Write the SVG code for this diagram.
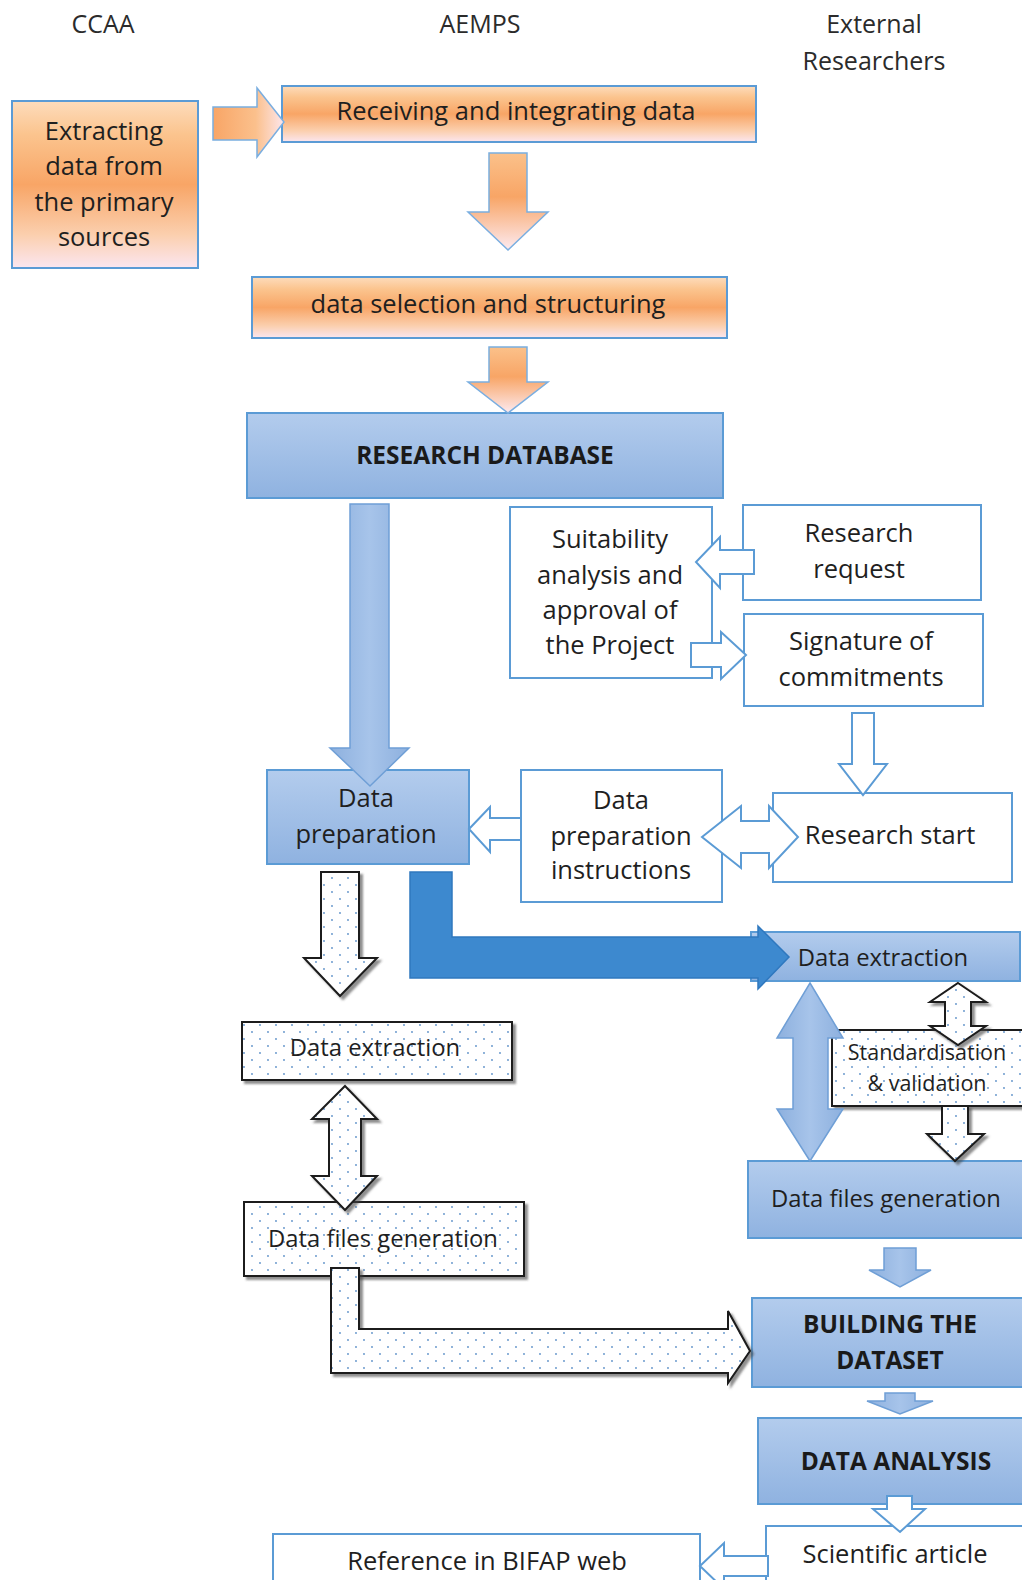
<svg xmlns="http://www.w3.org/2000/svg" width="1022" height="1580" viewBox="0 0 1022 1580">
<defs>
<linearGradient id="gOrV" x1="0" y1="0" x2="0" y2="1">
<stop offset="0" stop-color="#fddcbc"/><stop offset="0.2" stop-color="#fbc48e"/><stop offset="0.5" stop-color="#f8a566"/><stop offset="0.8" stop-color="#fbcfae"/><stop offset="1" stop-color="#fbe6f0"/>
</linearGradient>
<linearGradient id="gOrArrV" x1="0" y1="0" x2="0" y2="1">
<stop offset="0" stop-color="#fbc18a"/><stop offset="0.45" stop-color="#f8a566"/><stop offset="1" stop-color="#fdeaf0"/>
</linearGradient>
<linearGradient id="gOrArrH" x1="0" y1="0" x2="1" y2="0">
<stop offset="0" stop-color="#f8a566"/><stop offset="0.6" stop-color="#fbc08c"/><stop offset="1" stop-color="#fde6ec"/>
</linearGradient>
<linearGradient id="gBlue" x1="0" y1="0" x2="0" y2="1">
<stop offset="0" stop-color="#b3cced"/><stop offset="1" stop-color="#8fb2e0"/>
</linearGradient>
<linearGradient id="gBlueArr" x1="0" y1="0" x2="1" y2="0">
<stop offset="0" stop-color="#8db0de"/><stop offset="0.5" stop-color="#a7c4ea"/><stop offset="1" stop-color="#8db0de"/>
</linearGradient>
<pattern id="dots" width="16" height="14" patternUnits="userSpaceOnUse">
<rect width="16" height="14" fill="#ffffff"/>
<circle cx="4" cy="3" r="0.9" fill="#5b8fc8"/>
<circle cx="12" cy="10" r="0.9" fill="#5b8fc8"/>
</pattern>
<filter id="shadow" x="-10%" y="-10%" width="130%" height="130%">
<feDropShadow dx="3" dy="3" stdDeviation="1.2" flood-color="#444" flood-opacity="0.6"/>
</filter>
<style>
.t{font-family:"Open Sans","Liberation Sans",sans-serif;font-size:25.5px;fill:#1f1f1f;text-anchor:middle}
.tn{font-family:"Open Sans","Liberation Sans",sans-serif;font-size:23.8px;fill:#1f1f1f;text-anchor:middle}
.hd{font-family:"Open Sans","Liberation Sans",sans-serif;font-size:25px;fill:#2b2b2b;text-anchor:middle}
.b{font-family:"Open Sans","Liberation Sans",sans-serif;font-size:24.5px;font-weight:bold;fill:#1a1a1a;text-anchor:middle}
.s{font-family:"Open Sans","Liberation Sans",sans-serif;font-size:21.5px;fill:#1f1f1f;text-anchor:middle}
.or{fill:url(#gOrV);stroke:#5b9bd5;stroke-width:2}
.bl{fill:url(#gBlue);stroke:#5b9bd5;stroke-width:2}
.wh{fill:#ffffff;stroke:#5b9bd5;stroke-width:2}
.dt{fill:url(#dots);stroke:#1a1a1a;stroke-width:2;filter:url(#shadow)}
.ha{fill:#ffffff;stroke:#5b9bd5;stroke-width:2;stroke-linejoin:miter}
.oa{stroke:#7aaee0;stroke-width:1.5}
.ba{fill:url(#gBlueArr);stroke:#6f9fd6;stroke-width:1.5}
</style>
</defs>
<rect width="1022" height="1580" fill="#ffffff"/>

<g id="headers">
<text class="hd" x="103" y="33">CCAA</text>
<text class="hd" x="480" y="33">AEMPS</text>
<text class="hd" x="874" y="33">External</text>
<text class="hd" x="874" y="70">Researchers</text>
</g>

<g id="n-extracting">
<rect class="or" x="12" y="101" width="186" height="167"/>
<text class="t" x="104" y="140">Extracting</text>
<text class="t" x="104" y="175">data from</text>
<text class="t" x="104" y="211">the primary</text>
<text class="t" x="104" y="246">sources</text>
</g>
<g id="n-receiving">
<rect class="or" x="282" y="86" width="474" height="56"/>
<text class="t" x="516" y="120">Receiving and integrating data</text>
</g>
<g id="n-selection">
<rect class="or" x="252" y="277" width="475" height="61"/>
<text class="t" x="488" y="313">data selection and structuring</text>
</g>
<g id="n-researchdb">
<rect class="bl" x="247" y="413" width="476" height="85"/>
<text class="b" x="485" y="464">RESEARCH DATABASE</text>
</g>
<g id="n-suitability">
<rect class="wh" x="510" y="507" width="202" height="171"/>
<text class="t" x="610" y="548">Suitability</text>
<text class="t" x="610" y="584">analysis and</text>
<text class="t" x="610" y="619">approval of</text>
<text class="t" x="610" y="654">the Project</text>
</g>
<g id="n-request">
<rect class="wh" x="743" y="505" width="238" height="95"/>
<text class="t" x="859" y="542">Research</text>
<text class="t" x="859" y="578">request</text>
</g>
<g id="n-signature">
<rect class="wh" x="744" y="614" width="239" height="92"/>
<text class="t" x="861" y="650">Signature of</text>
<text class="t" x="861" y="686">commitments</text>
</g>
<g id="n-dataprep">
<rect class="bl" x="267" y="770" width="202" height="94"/>
<text class="t" x="366" y="807">Data</text>
<text class="t" x="366" y="843">preparation</text>
</g>
<g id="n-instructions">
<rect class="wh" x="521" y="770" width="201" height="132"/>
<text class="t" x="621" y="809">Data</text>
<text class="t" x="621" y="845">preparation</text>
<text class="t" x="621" y="879">instructions</text>
</g>
<g id="n-researchstart">
<rect class="wh" x="773" y="793" width="239" height="89"/>
<text class="t" x="890" y="844">Research start</text>
</g>
<g id="n-extraction-r">
<rect class="bl" x="751" y="932" width="269" height="49"/>
<text class="tn" x="883" y="966">Data extraction</text>
</g>
<g id="n-standard">
<rect class="dt" x="832" y="1030" width="200" height="76"/>
<text class="s" x="927" y="1060">Standardisation</text>
<text class="s" x="927" y="1091">&amp; validation</text>
</g>
<g id="n-files-r">
<rect class="bl" x="748" y="1161" width="280" height="77"/>
<text class="tn" x="886" y="1207">Data files generation</text>
</g>
<g id="n-extraction-l">
<rect class="dt" x="242" y="1022" width="270" height="58"/>
<text class="tn" x="375" y="1056">Data extraction</text>
</g>
<g id="n-files-l">
<rect class="dt" x="244" y="1202" width="280" height="74"/>
<text class="tn" x="383" y="1247">Data files generation</text>
</g>
<g id="n-building">
<rect class="bl" x="752" y="1298" width="275" height="89"/>
<text class="b" x="890" y="1333">BUILDING THE</text>
<text class="b" x="890" y="1369">DATASET</text>
</g>
<g id="n-analysis">
<rect class="bl" x="758" y="1418" width="270" height="86"/>
<text class="b" x="896" y="1470">DATA ANALYSIS</text>
</g>
<g id="n-article">
<rect class="wh" x="766" y="1526" width="262" height="64"/>
<text class="t" x="895" y="1563">Scientific article</text>
</g>
<g id="n-reference">
<rect class="wh" x="273" y="1534" width="427" height="56"/>
<text class="t" x="487" y="1570">Reference in BIFAP web</text>
</g>

<g id="connectors">
<polygon class="oa" fill="url(#gOrArrH)" points="213,107 257,107 257,88 284,122 257,157 257,140 213,140"/>
<polygon class="oa" fill="url(#gOrArrV)" points="489,153 527,153 527,212 548,212 508,250 468,212 489,212"/>
<polygon class="oa" fill="url(#gOrArrV)" points="489,347 527,347 527,382 548,382 508,413 468,382 489,382"/>
<polygon class="ba" points="350,504 389,504 389,748 409,748 370,786 330,748 350,748"/>
<polygon class="ha" points="754,550 720,550 720,537 696,562 720,588 720,574 754,574"/>
<polygon class="ha" points="691,643 721,643 721,632 746,655 721,679 721,667 691,667"/>
<polygon class="ha" points="852,713 874,713 874,764 887,764 863,795 839,764 852,764"/>
<polygon class="ha" points="702,837 741,806 741,821 769,821 769,806 798,837 769,868 769,853 741,853 741,868"/>
<polygon class="ha" points="469,829 490,807 490,818 521,818 521,840 490,840 490,852"/>
<polygon class="dt" points="321,872 359,872 359,958 377,958 340,996 304,958 321,958"/>
<polygon fill="#3d89cf" stroke="#2f78bf" stroke-width="1.5" points="410,872 452,872 452,937 758,937 758,926 789,957 758,989 758,978 410,978"/>
<polygon class="ba" points="810,983 843,1038 828,1038 828,1109 843,1109 810,1161 777,1109 793,1109 793,1038 777,1038"/>
<polygon class="dt" points="958,983 986,1002 971,1002 971,1026 986,1026 958,1045 930,1026 945,1026 945,1002 930,1002"/>
<polygon class="dt" points="942,1106 968,1106 968,1134 984,1134 955,1161 927,1134 942,1134"/>
<polygon class="dt" points="345,1086 377,1119 361,1119 361,1176 377,1176 345,1210 312,1176 329,1176 329,1119 312,1119"/>
<polygon class="dt" points="331,1268 359,1268 359,1329 728,1329 728,1311 750,1351 728,1383 728,1373 331,1373"/>
<polygon class="ba" points="884,1248 916,1248 916,1270 931,1270 900,1287 869,1270 884,1270"/>
<polygon class="ba" points="885,1393 915,1393 915,1401 933,1401 900,1414 867,1401 885,1401"/>
<polygon class="ha" points="887,1496 912,1496 912,1509 925,1509 900,1532 873,1509 887,1509"/>
<polygon class="ha" points="768,1556 724,1556 724,1543 700,1566 724,1589 724,1576 768,1576"/>
</g>
</svg>
